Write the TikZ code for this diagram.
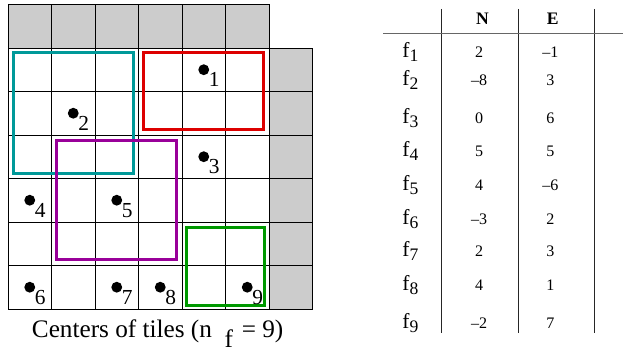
\documentclass[tikz,border=0pt]{standalone}
\usepackage{fontspec}
\setmainfont{Liberation Serif}
\usepackage{tikz}
\usetikzlibrary{positioning}
\definecolor{tilegray}{RGB}{204,204,204}
\definecolor{boxteal}{RGB}{0,153,153}
\definecolor{boxred}{RGB}{221,0,0}
\definecolor{boxpurple}{RGB}{153,0,153}
\definecolor{boxgreen}{RGB}{0,153,0}
\tikzset{
  cell/.style={draw=black, line width=0.6pt},
  tilebox/.style={line width=2pt},
  ctr/.style={circle, fill=black, inner sep=0pt, minimum size=0.25cm},
  idx/.style={inner sep=0pt, font=\fontsize{14}{14}\selectfont},
  tabnum/.style={inner sep=0pt, anchor=base, font=\fontsize{10.5}{10.5}\selectfont},
  tabhdr/.style={inner sep=0pt, anchor=base, font=\fontsize{11.5}{11.5}\selectfont\bfseries},
  fname/.style={inner sep=0pt, anchor=base west, font=\fontsize{14}{14}\selectfont},
  tabrule/.style={line width=0.7pt, color=black!60},
  tabcol/.style={line width=0.7pt, color=black!85}
}
\newcommand{\fsub}[1]{f\raisebox{-2.6pt}{\fontsize{11.5}{11.5}\selectfont #1}}

\begin{document}
\begin{tikzpicture}
\useasboundingbox (-0.184,-1.011) rectangle (14.138,7.103);

% Tile grid
\fill[tilegray] (0,6) rectangle (6,7);
\fill[tilegray] (6,0) rectangle (7,6);
\draw[cell] (0,0) grid (6,7);
\draw[cell] (6,0) grid (7,6);

% Windows
\draw[tilebox, boxteal] (0.12,3.12) rectangle (2.88,5.89);
\draw[tilebox, boxred] (3.11,4.13) rectangle (5.87,5.89);
\draw[tilebox, boxpurple] (1.12,1.13) rectangle (3.88,3.88);
\draw[tilebox, boxgreen] (4.11,0.09) rectangle (5.89,1.88);

% Tile centers
\node[ctr] (c1) at (4.5,5.5) {};
\node[ctr] (c2) at (1.5,4.5) {};
\node[ctr] (c3) at (4.5,3.5) {};
\node[ctr] (c4) at (0.5,2.5) {};
\node[ctr] (c5) at (2.5,2.5) {};
\node[ctr] (c6) at (0.5,0.5) {};
\node[ctr] (c7) at (2.5,0.5) {};
\node[ctr] (c8) at (3.5,0.5) {};
\node[ctr] (c9) at (5.5,0.5) {};
\node[idx, below right=-0.03cm and 0.02cm of c1] (n1) {1};
\node[idx, below right=-0.03cm and 0.02cm of c2] (n2) {2};
\node[idx, below right=-0.03cm and 0.02cm of c3] (n3) {3};
\node[idx, below right=-0.03cm and 0.02cm of c4] (n4) {4};
\node[idx, below right=-0.03cm and 0.02cm of c5] (n5) {5};
\node[idx, below right=-0.03cm and 0.02cm of c6] (n6) {6};
\node[idx, below right=-0.03cm and 0.02cm of c7] (n7) {7};
\node[idx, below right=-0.03cm and 0.02cm of c8] (n8) {8};
\node[idx, below right=-0.03cm and 0.02cm of c9] (n9) {9};

% Caption
\node[anchor=base, inner sep=0pt, font=\fontsize{16.5}{16.5}\selectfont] (cap) at (3.44,-0.66)
  {Centers of tiles (n\hspace{0.5em}\raisebox{-0.4em}{f}\hspace{0.1em} = 9)};

% Table
\draw[tabcol] (9.97,6.897) -- (9.97,-0.559);
\draw[tabcol] (11.73,6.897) -- (11.73,-0.559);
\draw[tabcol] (13.49,6.897) -- (13.49,-0.559);
\draw[tabrule] (8.628,6.338) -- (14.138,6.338);
\node[tabhdr] (hN) at (10.91,6.53) {N};
\node[tabhdr] (hE) at (12.52,6.53) {E};

\node[fname] (f1) at (9.06,5.770) {\fsub{1}};
\node[tabnum] (N1) at (10.83,5.770) {2};
\node[tabnum] (E1) at (12.47,5.770) {--1};
\node[fname] (f2) at (9.06,5.138) {\fsub{2}};
\node[tabnum] (N2) at (10.83,5.138) {--8};
\node[tabnum] (E2) at (12.47,5.138) {3};
\node[fname] (f3) at (9.06,4.264) {\fsub{3}};
\node[tabnum] (N3) at (10.83,4.264) {0};
\node[tabnum] (E3) at (12.47,4.264) {6};
\node[fname] (f4) at (9.06,3.506) {\fsub{4}};
\node[tabnum] (N4) at (10.83,3.506) {5};
\node[tabnum] (E4) at (12.47,3.506) {5};
\node[fname] (f5) at (9.06,2.724) {\fsub{5}};
\node[tabnum] (N5) at (10.83,2.724) {4};
\node[tabnum] (E5) at (12.47,2.724) {--6};
\node[fname] (f6) at (9.06,1.943) {\fsub{6}};
\node[tabnum] (N6) at (10.83,1.943) {--3};
\node[tabnum] (E6) at (12.47,1.943) {2};
\node[fname] (f7) at (9.06,1.195) {\fsub{7}};
\node[tabnum] (N7) at (10.83,1.195) {2};
\node[tabnum] (E7) at (12.47,1.195) {3};
\node[fname] (f8) at (9.06,0.425) {\fsub{8}};
\node[tabnum] (N8) at (10.83,0.425) {4};
\node[tabnum] (E8) at (12.47,0.425) {1};
\node[fname] (f9) at (9.06,-0.448) {\fsub{9}};
\node[tabnum] (N9) at (10.83,-0.448) {--2};
\node[tabnum] (E9) at (12.47,-0.448) {7};
\end{tikzpicture}
\end{document}
